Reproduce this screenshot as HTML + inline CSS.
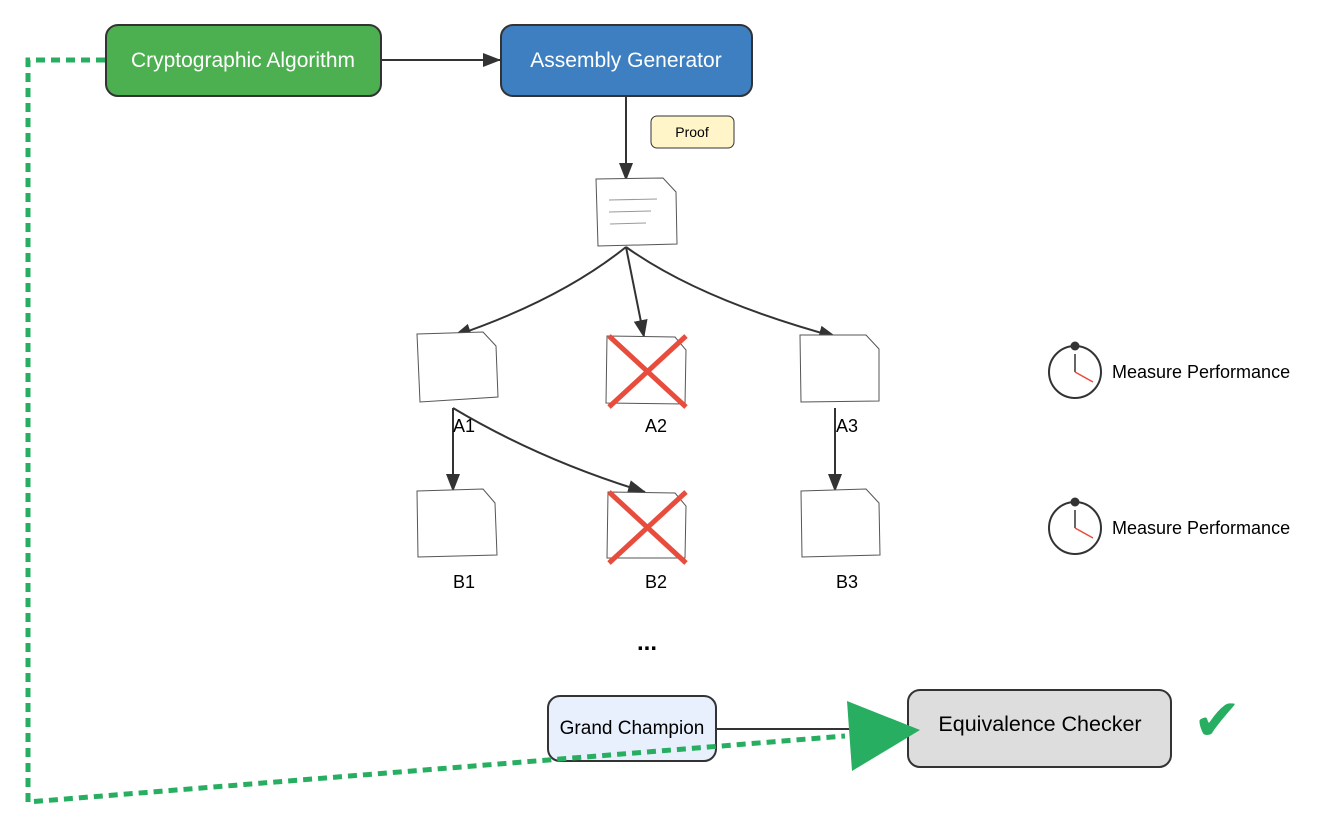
<!DOCTYPE html>
<html><head><meta charset="utf-8"><style>
html,body{margin:0;padding:0;background:#fff;}
svg{display:block;font-family:"Liberation Sans",Arial,sans-serif;}
</style></head><body>
<svg width="1326" height="834" viewBox="0 0 1326 834" xmlns="http://www.w3.org/2000/svg">
<defs>
<marker id="ar2" markerWidth="18" markerHeight="14" refX="17" refY="7" orient="auto" markerUnits="userSpaceOnUse">
<path d="M0,0 L18,7 L0,14 z" fill="#333"/>
</marker>
</defs>

<rect x="106" y="25" width="275" height="71" rx="12" fill="#4caf50" stroke="#333" stroke-width="2"/>
<text x="243" y="67" text-anchor="middle" font-size="21" fill="#fff">Cryptographic Algorithm</text>
<rect x="501" y="25" width="251" height="71" rx="12" fill="#3d7fc1" stroke="#333" stroke-width="2"/>
<text x="626" y="67" text-anchor="middle" font-size="21" fill="#fff">Assembly Generator</text>
<line x1="381" y1="60" x2="500" y2="60" stroke="#333" stroke-width="2" marker-end="url(#ar2)"/>

<rect x="651" y="116" width="83" height="32" rx="6" fill="#fff5c8" stroke="#333" stroke-width="1"/>
<text x="692" y="137" text-anchor="middle" font-size="14" fill="#000">Proof</text>

<line x1="626" y1="96" x2="626" y2="180" stroke="#333" stroke-width="2" marker-end="url(#ar2)"/>

<polygon points="596,179 663,178 676,192 677,244 598,246" fill="#fff" stroke="#555" stroke-width="1"/>
<line x1="609" y1="200" x2="657" y2="199" stroke="#999" stroke-width="1"/>
<line x1="609" y1="212" x2="651" y2="211" stroke="#999" stroke-width="1"/>
<line x1="610" y1="224" x2="646" y2="223" stroke="#999" stroke-width="1"/>

<path d="M626,247 Q560,300 454,336" fill="none" stroke="#333" stroke-width="2" marker-end="url(#ar2)"/>
<path d="M626,247 L644,337" fill="none" stroke="#333" stroke-width="2" marker-end="url(#ar2)"/>
<path d="M626,247 Q700,300 836,337" fill="none" stroke="#333" stroke-width="2" marker-end="url(#ar2)"/>

<polygon points="417,334 483,332 496,346 498,397 420,402" fill="#fff" stroke="#555" stroke-width="1"/>
<polygon points="607,336 675,337 686,350 685,404 606,403" fill="#fff" stroke="#555" stroke-width="1"/>
<polygon points="800,335 866,335 879,349 879,401 801,402" fill="#fff" stroke="#555" stroke-width="1"/>
<line x1="609" y1="336" x2="686" y2="407" stroke="#e74c3c" stroke-width="5"/>
<line x1="686" y1="336" x2="609" y2="407" stroke="#e74c3c" stroke-width="5"/>

<line x1="453" y1="408" x2="453" y2="491" stroke="#333" stroke-width="2" marker-end="url(#ar2)"/>
<path d="M453,408 Q540,460 645,492" fill="none" stroke="#333" stroke-width="2" marker-end="url(#ar2)"/>
<line x1="835" y1="408" x2="835" y2="491" stroke="#333" stroke-width="2" marker-end="url(#ar2)"/>

<text x="464" y="432" text-anchor="middle" font-size="18">A1</text>
<text x="656" y="432" text-anchor="middle" font-size="18">A2</text>
<text x="847" y="432" text-anchor="middle" font-size="18">A3</text>

<polygon points="417,491 483,489 495,503 497,555 418,557" fill="#fff" stroke="#555" stroke-width="1"/>
<polygon points="608,492 675,493 686,506 685,558 607,558" fill="#fff" stroke="#555" stroke-width="1"/>
<polygon points="801,491 866,489 879,503 880,555 802,557" fill="#fff" stroke="#555" stroke-width="1"/>
<line x1="609" y1="492" x2="686" y2="563" stroke="#e74c3c" stroke-width="5"/>
<line x1="686" y1="492" x2="609" y2="563" stroke="#e74c3c" stroke-width="5"/>

<text x="464" y="588" text-anchor="middle" font-size="18">B1</text>
<text x="656" y="588" text-anchor="middle" font-size="18">B2</text>
<text x="847" y="588" text-anchor="middle" font-size="18">B3</text>

<text x="647" y="650" text-anchor="middle" font-size="24" font-weight="bold">...</text>

<g>
<circle cx="1075" cy="372" r="26" fill="#fff" stroke="#333" stroke-width="2"/>
<circle cx="1075" cy="346" r="4.5" fill="#333"/>
<line x1="1075" y1="354" x2="1075" y2="372" stroke="#333" stroke-width="1.5"/>
<line x1="1075" y1="372" x2="1093" y2="382" stroke="#e74c3c" stroke-width="1.5"/>
<text x="1112" y="378" font-size="18">Measure Performance</text>
</g>
<g>
<circle cx="1075" cy="528" r="26" fill="#fff" stroke="#333" stroke-width="2"/>
<circle cx="1075" cy="502" r="4.5" fill="#333"/>
<line x1="1075" y1="510" x2="1075" y2="528" stroke="#333" stroke-width="1.5"/>
<line x1="1075" y1="528" x2="1093" y2="538" stroke="#e74c3c" stroke-width="1.5"/>
<text x="1112" y="534" font-size="18">Measure Performance</text>
</g>

<rect x="548" y="696" width="168" height="65" rx="12" fill="#e8f0fe" stroke="#333" stroke-width="2"/>
<text x="632" y="734" text-anchor="middle" font-size="19">Grand Champion</text>
<line x1="716" y1="729" x2="850" y2="729" stroke="#333" stroke-width="2"/>
<rect x="908" y="690" width="263" height="77" rx="12" fill="#ddd" stroke="#333" stroke-width="2"/>
<text x="1040" y="731" text-anchor="middle" font-size="21.5">Equivalence Checker</text>
<text x="1217" y="740" text-anchor="middle" font-size="58" fill="#27ae60">✔</text>

<path d="M105,60 L28,60 L28,802 L845,736" fill="none" stroke="#27ae60" stroke-width="5" stroke-dasharray="9,6"/>
<polygon points="847,701 920,730 852,771" fill="#27ae60"/>
</svg>
</body></html>
